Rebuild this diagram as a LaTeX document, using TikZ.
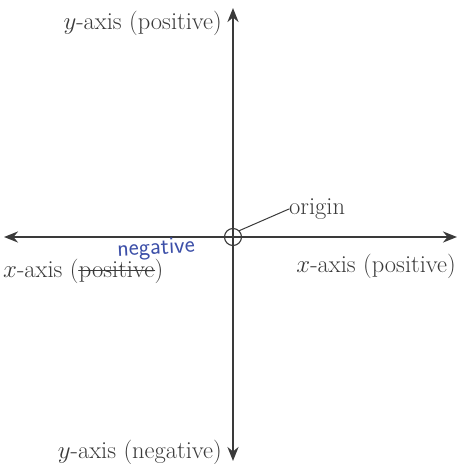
\documentclass[tikz,border=0pt]{standalone}
\usetikzlibrary{arrows.meta}
\definecolor{axisink}{HTML}{3A3A3A}
\definecolor{penblue}{HTML}{3C4FA8}
\tikzset{
  axislabel/.style={inner sep=0pt, text=axisink, font=\fontsize{24.5}{28}\selectfont},
  axisline/.style={axisink, line width=2.2pt, -{Stealth[length=14pt,width=11pt]}}
}

\begin{document}
\begin{tikzpicture}[line cap=round, line join=round, x=1pt, y=-1pt]
  \useasboundingbox (0,0) rectangle (459,464);
  % origin and axis ends
  \coordinate (o) at (233,237);
  \coordinate (top) at (233,8);
  \coordinate (bot) at (233,461);
  \coordinate (lft) at (4,237);
  \coordinate (rgt) at (457,237);
  \draw[axisline] (o) -- (top);
  \draw[axisline] (o) -- (bot);
  \draw[axisline] (o) -- (lft);
  \draw[axisline] (o) -- (rgt);
  % small ring at the origin
  \node[draw=axisink, line width=1.1pt, circle, minimum size=17pt, inner sep=0pt] (ring) at (o) {};
  \node[axislabel, anchor=west] (orig) at (289,209) {origin};
  \draw[axisink, line width=1pt] (ring.north east) -- (orig.west);
  % axis names
  \node[axislabel, anchor=east] (ypos) at (222,23) {$y$-axis (positive)};
  \node[axislabel, anchor=east] (yneg) at (222,452) {$y$-axis (negative)};
  \node[axislabel, anchor=east] (xpos) at (456,266) {$x$-axis (positive)};
  \node[axislabel, anchor=base west] (xneg) at (3,277) {$x$-axis (};
  \node[axislabel, anchor=base west] (xword) at (xneg.base east) {positive};
  \node[axislabel, anchor=base west] (xclose) at (xword.base east) {)};
  \draw[axisink, line width=1.2pt] (xword.west) ++(0,-1) -- ([yshift=1pt]xword.east);
  % pen correction
  \node[text=penblue, inner sep=0pt, rotate=3, font=\fontsize{24}{26}\sffamily] (pen) at (156,249) {negative};
\end{tikzpicture}
\end{document}
